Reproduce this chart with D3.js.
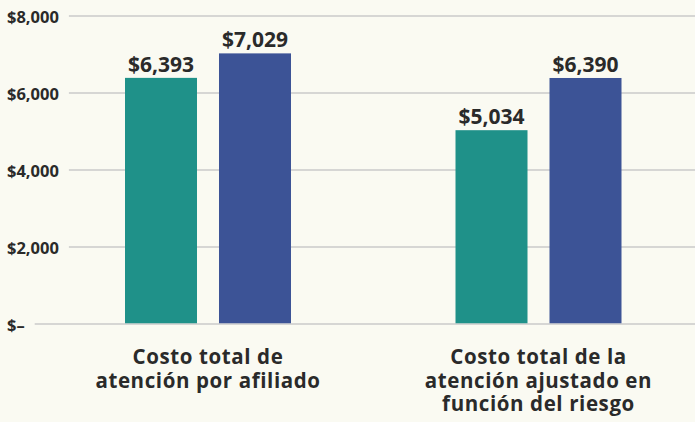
<!DOCTYPE html>
<html>
<head>
<meta charset="utf-8">
<script src="https://cdn.jsdelivr.net/npm/d3@7"></script>
<style>
  html, body { margin: 0; padding: 0; background: #fafaf2; }
  svg { display: block; font-family: "Open Sans", "Noto Sans", sans-serif; }
</style>
</head>
<body>
<div class="mainContent"></div>
<script>
const w = 695;
const h = 422;

// data
const categories = ['grupo1', 'grupo2'];
const categoryLines = [
    ['Costo total de', 'atención por afiliado'],
    ['Costo total de la', 'atención ajustado en', 'función del riesgo']
];
const series = ['a', 'b'];
const seriesColors = ['#1f9189', '#3c5396'];
const valuesA = [6393, 5034];
const valuesB = [7029, 6390];
const tickValues = [0, 2000, 4000, 6000, 8000];
const tickLabels = ['$–', '$2,000', '$4,000', '$6,000', '$8,000'];

function draw() {
    const rows = categories.map((c, i) => ({
        cat: c,
        vals: [valuesA[i], valuesB[i]]
    }));

    const yScale = d3.scaleLinear()
        .domain([0, 8000])
        .range([324, 16]);

    const xScale = d3.scalePoint()
        .domain(categories)
        .range([208, 538.5]);

    const inner = d3.scaleBand()
        .domain(series)
        .range([-83, 83])
        .paddingInner(0.234)
        .paddingOuter(0);

    const color = d3.scaleOrdinal().domain(series).range(seriesColors);

    const svg = d3.select('.mainContent')
        .append('svg')
        .attr('width', w)
        .attr('height', h);

    svg.append('rect')
        .attr('width', w)
        .attr('height', h)
        .attr('fill', '#fafaf2');

    // y labels + grid (line starts just after its label)
    const ticks = svg.append('g').attr('class', 'y-grid');
    const tick = ticks.selectAll('g')
        .data(tickValues)
        .enter()
        .append('g')
        .attr('transform', d => `translate(0,${yScale(d)})`);

    tick.append('text')
        .attr('x', 7)
        .attr('dy', '0.42em')
        .attr('font-size', 16.5)
        .attr('font-weight', 700)
        .attr('fill', '#2a2a2a')
        .text((d, i) => tickLabels[i]);

    tick.each(function () {
        const g = d3.select(this);
        const len = g.select('text').node().getComputedTextLength();
        g.insert('line', 'text')
            .attr('x1', 7 + len + 10)
            .attr('x2', w)
            .attr('stroke', '#cacaca')
            .attr('stroke-width', 1.5);
    });

    // bars
    const groups = svg.selectAll('g.cat')
        .data(rows)
        .enter()
        .append('g')
        .attr('class', 'cat')
        .attr('transform', d => `translate(${xScale(d.cat)},0)`);

    groups.selectAll('rect')
        .data(d => d.vals.map((v, i) => ({ key: series[i], value: v })))
        .enter()
        .append('rect')
        .attr('x', d => inner(d.key))
        .attr('width', inner.bandwidth())
        .attr('y', d => yScale(d.value))
        .attr('height', d => yScale(0) - 0.75 - yScale(d.value))
        .attr('fill', d => color(d.key));

    groups.selectAll('text.val')
        .data(d => d.vals.map((v, i) => ({ key: series[i], value: v })))
        .enter()
        .append('text')
        .attr('class', 'val')
        .attr('x', d => inner(d.key) + inner.bandwidth() / 2)
        .attr('y', d => yScale(d.value) - 6)
        .attr('text-anchor', 'middle')
        .attr('font-size', 21)
        .attr('font-weight', 700)
        .attr('fill', '#2a2a2a')
        .text(d => '$' + d3.format(',')(d.value));

    // category labels
    groups.append('text')
        .attr('text-anchor', 'middle')
        .attr('font-size', 20.5)
        .attr('font-weight', 700)
        .attr('fill', '#2a2a2a')
        .attr('letter-spacing', 0.6)
        .selectAll('tspan')
        .data((d, i) => categoryLines[i])
        .enter()
        .append('tspan')
        .attr('x', 0)
        .attr('y', (d, i) => 364 + i * 23.5)
        .text(d => d);
}

draw();
</script>
</body>
</html>
